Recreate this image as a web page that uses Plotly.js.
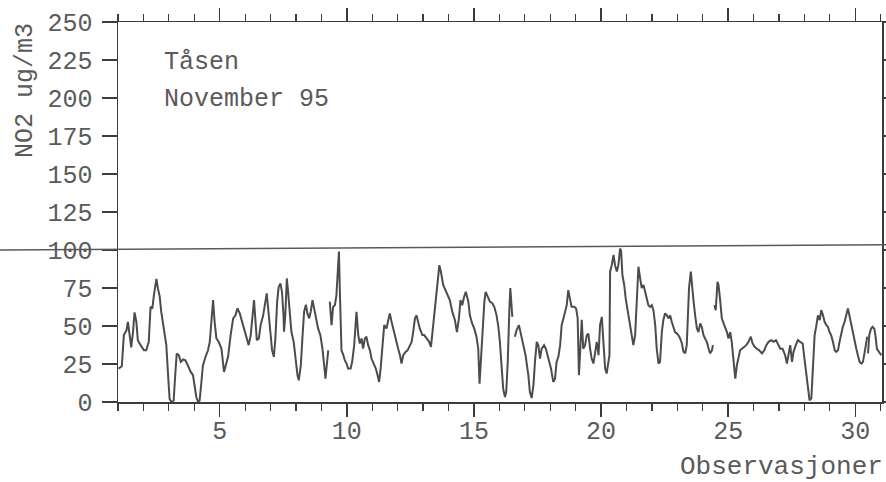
<!DOCTYPE html>
<html>
<head>
<meta charset="utf-8">
<script src="https://cdn.plot.ly/plotly-3.0.1.min.js"></script>
<style>html,body{margin:0;padding:0;background:#fff;}#chart{width:886px;height:482px;}</style>
</head>
<body>
<div id="chart"></div>
<script>
// Observation time in days (November 1995), null marks a break in the record
const days = [
1.02,1.15,1.23,1.33,1.39,1.46,1.52,1.59,1.65,1.72,1.78,1.89,2.02,2.11,2.21,2.28,2.35,2.41,2.51,2.57,
2.64,2.70,2.81,2.90,2.97,3.03,3.10,3.19,3.25,3.31,3.39,3.47,3.56,3.65,3.75,3.86,3.95,4.02,4.08,4.15,
4.21,4.28,4.34,4.44,4.54,4.61,4.67,4.74,4.80,4.87,4.96,5.07,5.17,5.33,5.43,5.53,5.62,5.70,5.79,5.88,
5.96,6.05,6.14,6.22,6.30,6.35,6.40,6.46,6.54,6.61,6.71,6.80,6.85,6.90,6.96,7.01,7.06,7.13,7.19,7.26,
7.32,7.39,7.45,7.51,7.53,7.58,7.64,7.69,7.76,7.82,7.91,7.98,8.06,8.11,8.19,8.26,8.32,8.39,8.45,8.52,
8.58,8.65,8.71,8.78,8.87,8.96,9.04,9.11,9.16,9.21,9.27,9.30,9.33,9.40,9.46,9.53,9.59,9.64,9.69,9.72,
9.75,9.79,9.86,9.92,9.99,10.05,10.15,10.21,10.29,10.38,10.45,10.51,10.58,10.64,10.71,10.77,10.84,10.91,10.97,11.06,
11.14,11.21,11.27,11.33,11.39,11.47,11.56,11.63,11.69,11.76,11.82,11.89,11.96,12.02,12.09,12.15,12.22,12.31,12.39,12.48,
12.55,12.61,12.68,12.74,12.81,12.87,12.97,13.04,13.14,13.24,13.31,13.40,13.49,13.57,13.64,13.70,13.79,13.88,13.96,14.05,
14.15,14.25,14.33,14.41,14.47,14.54,14.61,14.68,14.78,14.84,14.93,15.01,15.10,15.17,15.22,15.28,15.34,15.41,15.46,15.54,
15.63,15.72,15.80,15.89,15.96,16.02,16.09,16.15,16.22,16.27,16.33,16.36,16.39,16.43,16.47,16.51,16.55,16.61,16.68,16.77,
16.85,16.94,17.03,17.14,17.20,17.27,17.34,17.40,17.47,17.53,17.60,17.66,17.76,17.83,17.93,18.03,18.12,18.19,18.25,18.32,
18.39,18.45,18.52,18.58,18.65,18.71,18.78,18.84,18.94,19.02,19.08,19.13,19.19,19.24,19.30,19.37,19.44,19.50,19.57,19.63,
19.70,19.76,19.83,19.90,19.96,20.03,20.09,20.16,20.22,20.29,20.33,20.355,20.42,20.49,20.55,20.62,20.68,20.75,20.79,20.84,
20.91,20.97,21.05,21.14,21.21,21.27,21.34,21.40,21.47,21.54,21.60,21.67,21.73,21.80,21.86,21.93,21.995,22.06,22.13,22.19,
22.26,22.32,22.39,22.45,22.52,22.59,22.65,22.72,22.78,22.85,22.91,22.98,23.04,23.11,23.18,23.24,23.31,23.37,23.41,23.46,
23.53,23.57,23.64,23.70,23.77,23.83,23.90,23.96,24.03,24.09,24.16,24.23,24.29,24.36,24.40,24.43,24.46,24.51,24.58,24.62,
24.69,24.75,24.82,24.88,24.95,25.01,25.08,25.14,25.21,25.28,25.34,25.41,25.47,25.54,25.63,25.71,25.80,25.89,25.96,26.04,
26.13,26.22,26.33,26.42,26.50,26.59,26.69,26.79,26.88,26.98,27.05,27.14,27.24,27.31,27.37,27.44,27.51,27.57,27.66,27.74,
27.83,27.93,28.00,28.07,28.14,28.20,28.27,28.33,28.40,28.46,28.53,28.60,28.66,28.73,28.79,28.86,28.92,28.99,29.05,29.12,
29.19,29.25,29.32,29.38,29.45,29.51,29.58,29.65,29.71,29.78,29.84,29.91,29.97,30.04,30.10,30.17,30.24,30.30,30.37,30.43,
30.47,30.49,30.50,30.55,30.62,30.68,30.75,30.79,30.85,30.94,31.02
];
// NO2 concentration, ug/m3
const no2 = [
22,23.5,44,47,52.7,44,36,46,59,53,40.7,37.4,34,34,39.6,62.6,61.5,70,81,74.7,
69.5,59.4,48.4,37.4,17.6,2,0,1,17.6,31.9,30.8,26.4,28,27.5,24,19.8,17.6,11,3.3,0,
1,13,24,29.6,34,39.6,52.8,67,52.8,41.8,39.6,35,19.8,29.9,44,55,57,61.6,58.3,53,
48.4,44,37.4,44,57,67,55,40.7,41.8,50.6,57,66,71.5,62.6,51.7,44,34.1,29.7,41.8,66,
75.8,78,72.5,57,46.2,57,81.3,72.5,57,46.2,39.6,28.6,17.6,14.3,24,44,59.4,64,58.3,55,
59.4,67,61.5,55,48.4,44,35.2,24,15.4,24,34,null,66,50.5,62.6,63.7,70,82,99,77,
46,34,31,27.5,25.3,22,22,26.4,37.4,59.4,44,38.5,41.8,35.2,41.8,42.9,37.4,34,28.6,25.3,
22,17.6,13.2,22,37.4,50.6,48.4,52.8,58.3,52.8,48.4,44,39.6,35,30.8,25.3,30.8,33,34,37.4,
39.6,46,55,57,51.7,48.4,44,44,41.8,39.6,36.3,50.6,66,79,90,85.8,77,73.6,70.3,67,
59.4,54,46,55,67,63.7,69,72.5,66,57,51.7,48.4,43,35,12,28.6,52.8,66,72.5,69,
66,65,62.6,57,49.5,39.6,22,8.8,3.3,6.6,26.4,50.6,59.4,75,66,56,null,43,47.3,50.6,
44,37.4,30.8,17.6,6.6,2.6,11,26.4,39.6,37.4,28.6,35,37.4,35,28.6,22,13.2,15.4,26.4,29.7,
37.4,50.6,55,59.4,63.7,73.6,66,62.6,62.6,61.5,55,17.6,37.4,54,35,37.4,44,45,35,28.6,
25.3,33,39.6,30.8,50.6,56,37.4,22,18.7,26.4,30.8,85.7,90,96.7,90,85.8,90,101,99,83.5,
77,68,59.4,50.6,44,37.4,44,66,89,81,75,77,73.6,68,63.7,62.6,63.7,60.4,50.6,35,
25.3,26.4,46,54,58.3,57,55,57,52.8,49.5,46,45,44,41.8,38.5,33,32,37.4,55,75,
85.8,77,66,57,48.4,46,51.7,49.5,44,41.8,39.6,35,32,34,37.4,null,63.7,60.4,79,77,
66,55,51.7,49.5,46,41.8,46,39.6,26.4,15.4,24,30.8,34,35,36.3,37.4,39.6,43,38.5,36.3,
35,34,32,34,37.4,39.6,40.7,39.6,40.7,37.4,35,35,30.8,25.3,30.8,37.4,26.4,33,37.4,40.7,
39.6,38.5,28.6,17.6,6.6,1.1,2.2,19.8,44,49.5,57,53.9,60.4,57,52.8,50.6,49.5,46,44,39.6,
34,33,34,39.6,46,49.5,52.8,57,61.5,56,50.6,44,39.6,35,30.8,26.4,25.3,26.4,33,39.6,
43,null,32,44,48.4,49.5,48,44,35,33,30.8
];
const yTicks = [0,25,50,75,100,125,150,175,200,225,250];
const xTicks = [5,10,15,20,25,30];
const limitStart = 100;   // reference line as drawn (slightly tilted in the original scan)
const limitEnd = 103.5;
const stationLabel = "Tåsen";
const periodLabel = "November 95";
const yTitle = "NO2 ug/m3";
const xTitle = "Observasjoner";

const FONT = "Liberation Mono, Courier New, monospace";
const AX = "#3c3c3c";
const TXT = "#5a5a5a";

const trace = {
  x: days, y: no2, type: "scatter", mode: "lines",
  connectgaps: false,
  line: {color: "#4c4c4c", width: 2},
  hoverinfo: "skip"
};

const layout = {
  width: 886, height: 482,
  margin: {l: 118, r: 4, t: 22, b: 80},
  paper_bgcolor: "#ffffff", plot_bgcolor: "#ffffff",
  showlegend: false,
  font: {family: FONT, color: TXT},
  xaxis: {
    range: [1, 31.05], tickvals: xTicks, ticktext: xTicks.map(String),
    ticks: "outside", ticklen: 13, tickwidth: 1.5, tickcolor: AX,
    ticklabelstandoff: -8,
    showline: true, linecolor: AX, linewidth: 1.5, mirror: "ticks",
    showgrid: false, zeroline: false,
    minor: {dtick: 1, tick0: 0, ticks: "outside", ticklen: 7, tickwidth: 1.2, tickcolor: AX, showgrid: false},
    tickfont: {family: FONT, size: 25, color: TXT}
  },
  yaxis: {
    range: [0, 250], tickvals: yTicks, ticktext: yTicks.map(String),
    ticks: "outside", ticklen: 15, tickwidth: 1.5, tickcolor: AX,
    ticklabelstandoff: 4,
    showline: true, linecolor: AX, linewidth: 1.5, mirror: "ticks",
    showgrid: false, zeroline: false,
    tickfont: {family: FONT, size: 25, color: TXT}
  },
  shapes: [{
    type: "line", xref: "paper", yref: "y",
    x0: -0.16, x1: 1.01, y0: limitStart, y1: limitEnd,
    line: {color: "#5a5a5a", width: 1.5}, layer: "above"
  }],
  annotations: [
    {text: stationLabel, xref: "paper", yref: "paper", x: 0.057, y: 0.893, xanchor: "left", yanchor: "middle",
     showarrow: false, font: {family: FONT, size: 25, color: TXT}},
    {text: periodLabel, xref: "paper", yref: "paper", x: 0.057, y: 0.795, xanchor: "left", yanchor: "middle",
     showarrow: false, font: {family: FONT, size: 25, color: TXT}},
    {text: yTitle, xref: "paper", yref: "paper", x: -0.121, y: 0.82, xanchor: "center", yanchor: "middle",
     textangle: -90, showarrow: false, font: {family: FONT, size: 25, color: TXT}},
    {text: xTitle, xref: "paper", yref: "paper", x: 1.004, y: -0.172, xanchor: "right", yanchor: "middle",
     showarrow: false, font: {family: FONT, size: 26, color: TXT}}
  ]
};

Plotly.newPlot("chart", [trace], layout, {staticPlot: true, displayModeBar: false});
</script>
</body>
</html>
